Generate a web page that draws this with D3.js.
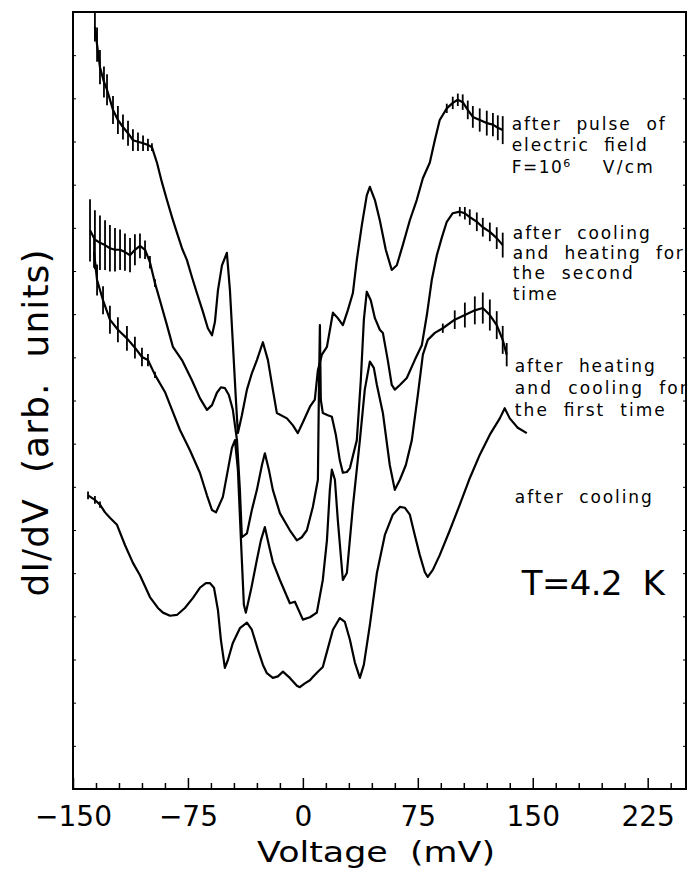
<!DOCTYPE html>
<html>
<head>
<meta charset="utf-8">
<script src="https://cdn.jsdelivr.net/npm/d3@7"></script>
<style>
  html, body { margin: 0; padding: 0; background: #fff; }
  svg { display: block; }
  text { font-family: "DejaVu Sans", sans-serif; fill: #000; }
</style>
</head>
<body>
<svg id="chart" width="689" height="873"></svg>
<script>
// x: voltage in mV, y: dI/dV in arbitrary units, third value = noise half-spread
const xTicks = [-150, -75, 0, 75, 150, 225];

const pulseCurve = [
    [-135.7, 98.1, 1.9], [-134.3, 95.8, 2.2], [-132.4, 92.9, 2.2], [-129.8, 91.0, 2.0], [-127.8, 90.0, 2.0],
    [-123.9, 87.4, 1.8], [-120.7, 86.1, 1.8], [-117.4, 85.2, 1.6], [-114.1, 84.4, 1.6], [-110.9, 83.5, 1.4],
    [-107.6, 83.3, 1.2], [-104.3, 83.1, 1.0], [-101.1, 82.9, 0.8], [-98.5, 82.6, 0.5], [-95.2, 80.6],
    [-92.0, 78.1], [-88.7, 75.8], [-85.4, 73.6], [-82.2, 71.6], [-78.9, 69.6], [-75.7, 68.1], [-72.4, 65.9],
    [-69.1, 63.8], [-65.2, 61.4], [-62.0, 59.3], [-59.3, 58.4], [-57.4, 60.1], [-55.4, 64.2], [-52.8, 67.4],
    [-49.6, 69.0], [-47.6, 64.2], [-45.7, 57.4], [-43.7, 50.1], [-42.4, 45.8], [-39.8, 48.1], [-36.5, 51.4],
    [-33.3, 53.5], [-30.0, 55.2], [-26.1, 57.5], [-22.8, 55.2], [-19.6, 51.4], [-17.0, 48.4], [-10.4, 47.7],
    [-6.5, 46.8], [-3.3, 45.8], [0.7, 47.5], [4.6, 49.2], [7.8, 50.1], [9.8, 53.9], [12.4, 55.9], [15.7, 56.9],
    [19.6, 61.3], [22.8, 60.6], [26.1, 59.7], [29.3, 61.6], [32.6, 63.8], [35.2, 68.1], [38.5, 72.6],
    [41.7, 76.4], [43.7, 77.5], [47.0, 75.8], [50.2, 73.2], [54.1, 69.4], [58.0, 66.8], [61.3, 67.4],
    [65.2, 70.0], [69.8, 73.2], [74.3, 75.8], [78.3, 78.6], [82.8, 80.6], [86.1, 83.5], [89.3, 86.1],
    [93.9, 87.6, 0.6], [97.8, 88.3, 0.8], [101.1, 88.7, 0.8], [104.3, 88.4, 1.0], [107.6, 87.4, 1.2],
    [110.9, 86.5, 1.4], [115.4, 86.1, 1.5], [120.0, 85.7, 1.6], [124.0, 85.5, 1.5], [127.2, 85.1, 1.6],
    [130.4, 84.8, 1.8]
];

const secondCurve = [
    [-138.9, 71.9, 4.0], [-135.7, 70.7, 3.8], [-132.4, 70.3, 3.5], [-129.1, 70.0, 3.2], [-125.9, 69.6, 3.0],
    [-122.6, 69.4, 2.8], [-119.3, 69.4, 2.6], [-116.1, 69.1, 2.4], [-112.8, 68.7, 2.2], [-109.6, 69.4, 2.0],
    [-106.3, 69.9, 1.6], [-103.0, 69.4, 1.2], [-99.8, 67.8, 0.8], [-96.5, 65.1, 0.5], [-93.3, 62.9],
    [-88.7, 59.7], [-84.8, 56.9], [-78.9, 55.2], [-72.4, 52.6], [-67.2, 50.3], [-62.6, 48.8], [-59.3, 49.4],
    [-56.1, 51.0], [-53.5, 51.7], [-50.9, 51.6], [-48.3, 50.7], [-45.7, 48.8], [-43.0, 44.9], [-41.1, 38.5],
    [-39.8, 32.4], [-36.5, 32.9], [-33.3, 35.9], [-30.0, 38.5], [-26.7, 41.7], [-24.8, 43.2], [-22.2, 41.1],
    [-19.6, 38.5], [-15.0, 35.5], [-8.5, 33.3], [-3.9, 32.0], [-0.7, 32.4], [2.6, 33.3], [6.5, 36.3],
    [9.8, 39.8], [10.4, 50.1], [11.1, 59.7], [11.7, 50.1], [13.0, 48.4], [16.3, 48.1], [18.9, 47.9],
    [21.5, 45.6], [24.1, 42.3], [26.1, 40.7], [28.7, 40.8], [30.7, 41.3], [35.2, 44.9], [37.8, 52.6],
    [39.8, 60.4], [41.7, 64.0], [44.3, 62.9], [47.0, 60.6], [50.2, 59.1], [52.2, 58.7], [55.4, 55.2],
    [58.0, 52.0], [60.0, 51.4], [63.3, 52.0], [67.8, 52.9], [73.0, 55.2], [77.6, 57.1], [80.9, 61.0],
    [84.1, 65.5], [87.4, 68.7], [90.7, 71.0], [93.9, 73.0], [97.8, 74.1], [102.4, 74.3, 0.6],
    [105.7, 74.1, 0.8], [108.9, 73.6, 1.0], [113.5, 73.0, 1.2], [117.4, 72.3, 1.2], [122.0, 71.7, 1.2],
    [126.5, 70.9, 1.4], [130.4, 70.0, 1.6]
];

const firstCurve = [
    [-136.3, 69.1, 2.0], [-134.3, 65.5, 2.0], [-130.4, 62.9, 1.8], [-125.9, 60.4, 1.8], [-120.7, 59.1, 1.6],
    [-114.8, 58.0, 1.6], [-109.6, 56.8, 1.4], [-105.0, 55.6, 1.2], [-101.1, 55.2, 0.8], [-96.5, 53.3, 0.4],
    [-90.0, 51.1], [-85.4, 48.8], [-80.2, 46.2], [-73.7, 43.6], [-67.2, 40.7], [-62.6, 37.8], [-59.3, 35.9],
    [-56.7, 35.6], [-52.2, 37.6], [-48.9, 41.1], [-46.3, 43.9], [-44.3, 44.9], [-42.4, 41.1], [-40.4, 32.0],
    [-38.5, 23.7], [-37.2, 22.7], [-33.9, 25.6], [-30.0, 29.5], [-27.4, 32.0], [-24.8, 33.7], [-22.2, 31.4],
    [-19.6, 29.2], [-15.0, 26.9], [-8.5, 23.9], [-5.2, 24.1], [0.0, 21.8], [4.6, 22.1], [9.1, 22.7],
    [13.0, 26.9], [15.7, 32.0], [17.6, 38.5], [18.9, 41.1], [20.9, 39.8], [22.8, 34.6], [26.1, 26.9],
    [28.7, 27.8], [32.6, 36.3], [37.2, 44.9], [40.4, 51.4], [43.7, 55.0], [46.3, 54.2], [48.3, 52.0],
    [52.2, 48.4], [56.7, 41.7], [60.0, 38.5], [63.3, 39.8], [67.2, 41.7], [71.1, 44.9], [75.0, 50.7],
    [78.3, 55.9], [81.5, 57.8], [86.1, 58.7], [91.3, 59.3, 0.6], [99.1, 60.4, 1.2], [105.7, 61.0, 1.6],
    [112.2, 61.6, 1.8], [117.4, 61.9, 2.0], [122.0, 61.0, 2.0], [126.5, 59.7, 1.8], [130.4, 57.8, 1.8],
    [133.0, 55.9, 1.5]
];

const coolingCurve = [
    [-140.2, 37.8, 0.5], [-135.7, 37.2, 0.5], [-132.4, 36.6, 0.4], [-129.1, 35.6], [-125.9, 34.9],
    [-121.3, 34.0], [-116.1, 31.4], [-110.9, 29.1], [-106.3, 27.5], [-99.8, 24.7], [-94.6, 23.3],
    [-91.3, 22.7], [-86.7, 22.3], [-82.2, 22.4], [-77.0, 23.3], [-71.7, 24.6], [-67.2, 25.9], [-63.3, 26.5],
    [-60.7, 26.5], [-58.0, 25.9], [-55.4, 23.0], [-53.5, 19.2], [-50.9, 15.6], [-48.9, 16.6], [-45.7, 18.8],
    [-41.1, 20.7], [-36.5, 21.4], [-33.3, 20.5], [-29.3, 17.9], [-26.1, 16.0], [-23.5, 14.9], [-19.6, 14.3],
    [-16.3, 14.5], [-13.0, 15.1], [-8.5, 14.3], [-3.9, 13.3], [-2.0, 13.1], [1.3, 13.6], [4.6, 14.0],
    [6.5, 14.4], [9.8, 15.1], [13.0, 15.7], [16.3, 18.1], [19.6, 20.5], [24.1, 22.0], [27.4, 21.5],
    [30.7, 19.2], [33.9, 16.3], [37.2, 14.3], [39.8, 16.0], [43.7, 21.1], [48.3, 27.8], [53.5, 32.7],
    [58.7, 35.3], [63.3, 36.3], [66.5, 36.2], [69.8, 35.3], [73.0, 32.7], [76.3, 30.1], [79.6, 27.9],
    [81.5, 27.3], [84.8, 28.2], [89.3, 30.1], [95.9, 33.3], [102.4, 36.6], [108.9, 40.0], [115.4, 43.0],
    [122.0, 45.6], [128.5, 47.7], [131.7, 49.0], [135.0, 47.7], [140.2, 46.5], [146.1, 45.8]
];

const curves = [pulseCurve, secondCurve, firstCurve, coolingCurve];

// annotation lines: text, anchor in data units (mV, arb), width in px
const notes = [
    { text: "after  pulse  of", x: 136.3, y: 84.8, w: 153 },
    { text: "electric  field", x: 136.3, y: 82.1, w: 135 },
    { text: "after  cooling", x: 137.0, y: 70.8, w: 137 },
    { text: "and  heating  for", x: 137.0, y: 68.2, w: 170 },
    { text: "the  second", x: 137.0, y: 65.6, w: 120 },
    { text: "time", x: 137.0, y: 62.9, w: 44 },
    { text: "after  heating", x: 138.3, y: 53.7, w: 140 },
    { text: "and  cooling  for", x: 138.3, y: 50.8, w: 172 },
    { text: "the  first  time", x: 138.3, y: 48.0, w: 150 },
    { text: "after  cooling", x: 138.3, y: 36.8, w: 137 }
];

const svg = d3.select("#chart");

const x = d3.scaleLinear().domain([-150, 250]).range([73, 686]);
const y = d3.scaleLinear().domain([0, 100]).range([789, 12]);

// minor ticks
const minor = d3.range(-150, 251, 15).filter(v => v % 75 !== 0);
svg.append("g")
    .attr("transform", `translate(0,${y(0)})`)
    .call(d3.axisBottom(x).tickValues(minor).tickSize(-6).tickFormat(""))
    .call(g => g.select(".domain").remove())
    .call(g => g.selectAll("line").attr("stroke-width", 1.5));

// major ticks with labels
svg.append("g")
    .attr("transform", `translate(0,${y(0)})`)
    .call(d3.axisBottom(x).tickValues(xTicks).tickSizeInner(-11).tickSizeOuter(0).tickPadding(17))
    .call(g => g.select(".domain").remove())
    .call(g => g.selectAll("line").attr("stroke-width", 1.5))
    .call(g => g.selectAll("text")
        .attr("font-family", "DejaVu Sans")
        .attr("font-size", 28)
        .attr("fill", "#000"));

// small marks on both vertical sides
const yMarks = d3.range(1, 18).map(i => i * 100 / 18);
svg.append("g")
    .attr("transform", `translate(${x(-150)},0)`)
    .call(d3.axisRight(y).tickValues(yMarks).tickSize(3).tickFormat(""))
    .call(g => g.select(".domain").remove());
svg.append("g")
    .attr("transform", `translate(${x(250)},0)`)
    .call(d3.axisLeft(y).tickValues(yMarks).tickSize(3).tickFormat(""))
    .call(g => g.select(".domain").remove());

// frame
svg.append("rect")
    .attr("x", x(-150))
    .attr("y", y(100))
    .attr("width", x(250) - x(-150))
    .attr("height", y(0) - y(100))
    .attr("fill", "none")
    .attr("stroke", "#000")
    .attr("stroke-width", 2);

const line = d3.line()
    .x(d => x(d[0]))
    .y(d => y(d[1]));

curves.forEach(c => {
    svg.append("path")
        .datum(c)
        .attr("fill", "none")
        .attr("stroke", "#000")
        .attr("stroke-width", 2.2)
        .attr("stroke-linejoin", "round")
        .attr("d", line);

    // noisy stretches drawn as vertical scatter bars
    svg.append("g")
        .selectAll("line")
        .data(c.filter(d => d[2]))
        .join("line")
        .attr("x1", d => x(d[0]))
        .attr("x2", d => x(d[0]))
        .attr("y1", d => y(d[1] - d[2]))
        .attr("y2", d => y(d[1] + d[2]))
        .attr("stroke", "#000")
        .attr("stroke-width", 1.8);
});

// annotations
svg.append("g")
    .selectAll("text")
    .data(notes)
    .join("text")
    .attr("x", d => x(d.x))
    .attr("y", d => y(d.y))
    .attr("font-size", 17)
    .attr("textLength", d => d.w)
    .attr("lengthAdjust", "spacing")
    .style("white-space", "pre")
    .text(d => d.text);

const field = svg.append("text")
    .attr("x", x(136.3))
    .attr("y", y(79.3))
    .attr("font-size", 17)
    .style("white-space", "pre");
field.append("tspan").attr("textLength", 50).attr("lengthAdjust", "spacing").text("F=10");
field.append("tspan").attr("dy", -6).attr("font-size", 11).text("6");
field.append("tspan").attr("x", x(195.7)).attr("dy", 6)
    .attr("textLength", 50).attr("lengthAdjust", "spacing").text("V/cm");

svg.append("text")
    .attr("x", x(142.8))
    .attr("y", y(25.0))
    .attr("font-size", 34)
    .attr("textLength", 143)
    .attr("lengthAdjust", "spacing")
    .style("white-space", "pre")
    .text("T=4.2  K");

// axis titles
svg.append("text")
    .attr("x", 376)
    .attr("y", 862)
    .attr("text-anchor", "middle")
    .attr("font-size", 29)
    .attr("textLength", 238)
    .attr("lengthAdjust", "spacingAndGlyphs")
    .style("white-space", "pre")
    .text("Voltage  (mV)");

svg.append("text")
    .attr("transform", "translate(48,423) rotate(-90)")
    .attr("text-anchor", "middle")
    .attr("font-size", 36)
    .attr("textLength", 347)
    .attr("lengthAdjust", "spacing")
    .style("white-space", "pre")
    .text("dI/dV  (arb.  units)");
</script>
</body>
</html>
